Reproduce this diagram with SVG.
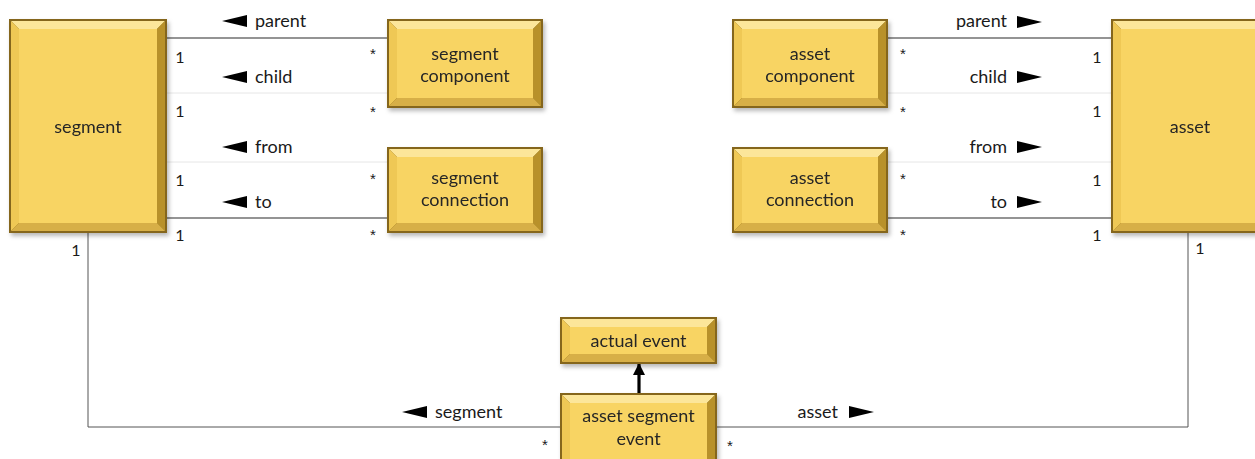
<svg xmlns="http://www.w3.org/2000/svg" width="1255" height="459" viewBox="0 0 1255 459">
<style>
.frame{fill:#85661a}
.bt{fill:#fce69a}
.bl{fill:#efc855}
.br{fill:#b8912c}
.bb{fill:#d7af47}
.face{fill:#f8d464}
.nt{font-family:Lato,"Open Sans","Liberation Sans",sans-serif;font-size:18px;fill:#262626;text-anchor:middle}
.lbl{font-family:Lato,"Open Sans","Liberation Sans",sans-serif;font-size:18px;fill:#1a1a1a}
.m{font-family:Lato,"Open Sans","Liberation Sans",sans-serif;font-size:16px;fill:#1a1a1a;text-anchor:middle}
.s{font-family:"Liberation Sans",sans-serif;font-size:15px;fill:#1a1a1a;text-anchor:middle}
.dark{stroke:#2a2a2a;stroke-width:1.2;fill:none}
.faint{stroke:#e6e6e6;stroke-width:1;fill:none}
.gray{stroke:#555;stroke-width:1;fill:none}
.tri{fill:#000}
</style>
<defs>
<filter id="sh" x="-10%" y="-10%" width="130%" height="130%">
<feDropShadow dx="2" dy="3" stdDeviation="2" flood-color="#000" flood-opacity="0.28"/>
</filter>
<marker id="ah" viewBox="0 0 12 12" refX="11" refY="6" markerWidth="12" markerHeight="12" markerUnits="userSpaceOnUse" orient="auto">
<path d="M0,0 L12,6 L0,12 Z" fill="#000"/>
</marker>
</defs>
<rect width="1255" height="459" fill="#fff"/>

<g id="connectors">
<line class="dark" x1="167" y1="38" x2="387" y2="38"/>
<line class="faint" x1="167" y1="93" x2="387" y2="93"/>
<line class="faint" x1="167" y1="162" x2="387" y2="162"/>
<line class="dark" x1="167" y1="218" x2="387" y2="218"/>
<line class="dark" x1="888" y1="38" x2="1111" y2="38"/>
<line class="faint" x1="888" y1="93" x2="1111" y2="93"/>
<line class="faint" x1="888" y1="162" x2="1111" y2="162"/>
<line class="dark" x1="888" y1="218" x2="1111" y2="218"/>
<polyline class="gray" points="88,233 88,427 560,427"/>
<polyline class="gray" points="717,427 1188,427 1188,233"/>
<line x1="639" y1="393" x2="639" y2="364" stroke="#000" stroke-width="3.2" marker-end="url(#ah)"/>

<polygon class="tri" points="222,21 247,15 247,27"/>
<text class="lbl" x="255" y="27">parent</text>
<polygon class="tri" points="222,77 247,71 247,83"/>
<text class="lbl" x="255" y="83">child</text>
<polygon class="tri" points="222,147 247,141 247,153"/>
<text class="lbl" x="255" y="153">from</text>
<polygon class="tri" points="222,202 247,196 247,208"/>
<text class="lbl" x="255" y="208">to</text>

<text class="lbl" x="1007" y="27" text-anchor="end">parent</text>
<polygon class="tri" points="1042,22 1017,16 1017,28"/>
<text class="lbl" x="1007" y="83" text-anchor="end">child</text>
<polygon class="tri" points="1042,77 1017,71 1017,83"/>
<text class="lbl" x="1007" y="153" text-anchor="end">from</text>
<polygon class="tri" points="1042,147 1017,141 1017,153"/>
<text class="lbl" x="1007" y="208" text-anchor="end">to</text>
<polygon class="tri" points="1042,202 1017,196 1017,208"/>

<polygon class="tri" points="402,412 427,406 427,418"/>
<text class="lbl" x="435" y="418">segment</text>
<text class="lbl" x="838" y="418" text-anchor="end">asset</text>
<polygon class="tri" points="874,412 849,406 849,418"/>

<text class="m" x="180" y="63">1</text>
<text class="m" x="180" y="117">1</text>
<text class="m" x="180" y="186">1</text>
<text class="m" x="180" y="241">1</text>
<text class="s" x="373" y="59">*</text>
<text class="s" x="373" y="117">*</text>
<text class="s" x="373" y="184">*</text>
<text class="s" x="373" y="240">*</text>
<text class="s" x="903" y="59">*</text>
<text class="s" x="903" y="117">*</text>
<text class="s" x="903" y="184">*</text>
<text class="s" x="903" y="240">*</text>
<text class="m" x="1097" y="63">1</text>
<text class="m" x="1097" y="117">1</text>
<text class="m" x="1097" y="186">1</text>
<text class="m" x="1097" y="241">1</text>
<text class="m" x="76" y="256">1</text>
<text class="m" x="1200" y="254">1</text>
<text class="s" x="545" y="450">*</text>
<text class="s" x="730" y="451">*</text>
</g>

<g id="segment" filter="url(#sh)">
<rect class="frame" x="9" y="19" width="158" height="214"/>
<polygon class="bt" points="11,21 165,21 157,29 19,29"/>
<polygon class="bl" points="11,21 19,29 19,223 11,231"/>
<polygon class="br" points="165,21 165,231 157,223 157,29"/>
<polygon class="bb" points="11,231 165,231 157,223 19,223"/>
<rect class="face" x="19" y="29" width="138" height="194"/>
<text class="nt" x="88" y="133">segment</text>
</g>

<g id="segment-component" filter="url(#sh)">
<rect class="frame" x="387" y="19" width="156" height="89"/>
<polygon class="bt" points="389,21 541,21 533,29 397,29"/>
<polygon class="bl" points="389,21 397,29 397,98 389,106"/>
<polygon class="br" points="541,21 541,106 533,98 533,29"/>
<polygon class="bb" points="389,106 541,106 533,98 397,98"/>
<rect class="face" x="397" y="29" width="136" height="69"/>
<text class="nt" x="465" y="60">segment</text>
<text class="nt" x="465" y="82">component</text>
</g>

<g id="segment-connection" filter="url(#sh)">
<rect class="frame" x="387" y="147" width="156" height="86"/>
<polygon class="bt" points="389,149 541,149 533,157 397,157"/>
<polygon class="bl" points="389,149 397,157 397,223 389,231"/>
<polygon class="br" points="541,149 541,231 533,223 533,157"/>
<polygon class="bb" points="389,231 541,231 533,223 397,223"/>
<rect class="face" x="397" y="157" width="136" height="66"/>
<text class="nt" x="465" y="184">segment</text>
<text class="nt" x="465" y="206">connection</text>
</g>

<g id="asset-component" filter="url(#sh)">
<rect class="frame" x="732" y="19" width="156" height="89"/>
<polygon class="bt" points="734,21 886,21 878,29 742,29"/>
<polygon class="bl" points="734,21 742,29 742,98 734,106"/>
<polygon class="br" points="886,21 886,106 878,98 878,29"/>
<polygon class="bb" points="734,106 886,106 878,98 742,98"/>
<rect class="face" x="742" y="29" width="136" height="69"/>
<text class="nt" x="810" y="60">asset</text>
<text class="nt" x="810" y="82">component</text>
</g>

<g id="asset-connection" filter="url(#sh)">
<rect class="frame" x="732" y="147" width="156" height="86"/>
<polygon class="bt" points="734,149 886,149 878,157 742,157"/>
<polygon class="bl" points="734,149 742,157 742,223 734,231"/>
<polygon class="br" points="886,149 886,231 878,223 878,157"/>
<polygon class="bb" points="734,231 886,231 878,223 742,223"/>
<rect class="face" x="742" y="157" width="136" height="66"/>
<text class="nt" x="810" y="184">asset</text>
<text class="nt" x="810" y="206">connection</text>
</g>

<g id="asset" filter="url(#sh)">
<rect class="frame" x="1111" y="19" width="158" height="214"/>
<polygon class="bt" points="1113,21 1267,21 1259,29 1121,29"/>
<polygon class="bl" points="1113,21 1121,29 1121,223 1113,231"/>
<polygon class="br" points="1267,21 1267,231 1259,223 1259,29"/>
<polygon class="bb" points="1113,231 1267,231 1259,223 1121,223"/>
<rect class="face" x="1121" y="29" width="138" height="194"/>
<text class="nt" x="1190" y="133">asset</text>
</g>

<g id="actual-event" filter="url(#sh)">
<rect class="frame" x="560" y="317" width="157" height="47"/>
<polygon class="bt" points="562,319 715,319 707,327 570,327"/>
<polygon class="bl" points="562,319 570,327 570,354 562,362"/>
<polygon class="br" points="715,319 715,362 707,354 707,327"/>
<polygon class="bb" points="562,362 715,362 707,354 570,354"/>
<rect class="face" x="570" y="327" width="137" height="27"/>
<text class="nt" x="638.5" y="347">actual event</text>
</g>

<g id="asset-segment-event" filter="url(#sh)">
<rect class="frame" x="560" y="393" width="157" height="80"/>
<polygon class="bt" points="562,395 715,395 707,403 570,403"/>
<polygon class="bl" points="562,395 570,403 570,463 562,471"/>
<polygon class="br" points="715,395 715,471 707,463 707,403"/>
<polygon class="bb" points="562,471 715,471 707,463 570,463"/>
<rect class="face" x="570" y="403" width="137" height="60"/>
<text class="nt" x="638.5" y="422">asset segment</text>
<text class="nt" x="638.5" y="445">event</text>
</g>
</svg>
